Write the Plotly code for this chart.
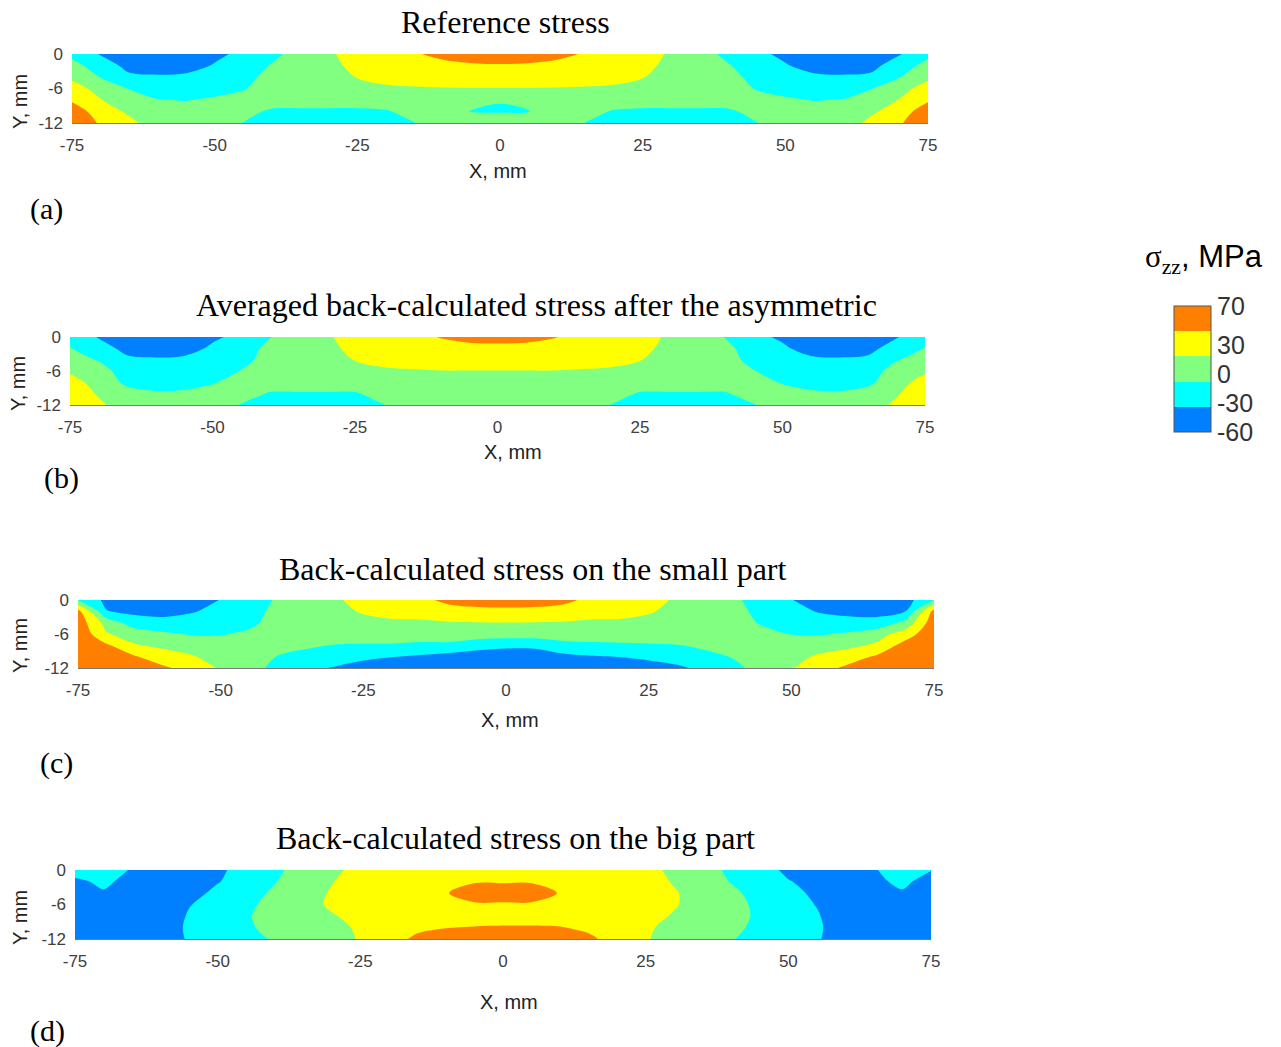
import plotly.graph_objects as go

# page size and the 8 px body margin of the html page
W, H = 1281, 1047
PAGE_MARGIN = 8
FW, FH = W - 2 * PAGE_MARGIN, H - PAGE_MARGIN

# ---------------- data ----------------
X_NODES = [-75, -70, -65, -60, -55, -50, -45, -40, -35, -30, -25, -20, -15, -10, -5, 0,
           5, 10, 15, 20, 25, 30, 35, 40, 45, 50, 55, 60, 65, 70, 75]
Y_NODES = [0, -2, -4, -6, -8, -10, -12]

X_TICKS = [-75, -50, -25, 0, 25, 50, 75]
X_TICK_TEXT = ["-75", "-50", "-25", "0", "25", "50", "75"]
Y_TICKS = [0, -6, -12]
Y_TICK_TEXT = ["0", "-6", "-12"]

CBAR_TICKS = [-60, -30, 0, 30, 70]
CBAR_TICK_TEXT = ["-60", "-30", "0", "30", "70"]

# sigma_zz (MPa) on the grid, one row per Y_NODES value
Z_REFERENCE = [
    [-14, -36, -50, -55, -52, -40, -28, -16, 4, 14, 30, 32, 42, 50, 56, 58, 56, 50, 42, 32, 30, 14, 4, -16, -28, -40, -52, -55, -50, -36, -14],
    [0, -20, -42, -46, -44, -32, -24, -6, 6, 10, 26, 30, 34, 38, 41, 42, 41, 38, 34, 30, 26, 10, 6, -6, -24, -32, -44, -46, -42, -20, 0],
    [12, -9, -29, -31, -29, -26, -18, 2, 6, 8, 19, 26, 28, 30, 30, 30, 30, 30, 28, 26, 19, 8, 6, 2, -18, -26, -29, -31, -29, -9, 12],
    [30, 8, -9, -20, -20, -18, -10, 5, 5, 6, 10, 14, 16, 17, 17.5, 17.5, 17.5, 17, 16, 14, 10, 6, 5, 5, -10, -18, -20, -20, -9, 8, 30],
    [40, 19, 5, -7, -9, -4, 2, 4, 2, 2, 2, 4, 6, 4, -4, -7, -4, 4, 6, 4, 2, 2, 2, 4, 2, -4, -9, -7, 5, 19, 40],
    [60, 30, 14, 3, 2, 3, 0, -12, -12, -12, -12, -10, 0, -2, -8.5, -10, -8.5, -2, 0, -10, -12, -12, -12, -12, 0, 3, 2, 3, 14, 30, 60],
    [72, 40, 24, 6, 4, 2, -8.5, -20, -20, -20, -18, -16, -8.5, 2, 5, 8, 5, 2, -8.5, -16, -18, -20, -20, -20, -8.5, 2, 4, 6, 24, 40, 72],
]

Z_AVERAGED = [
    [-12, -36, -50, -55, -52, -38, -28, -9, 4, 14, 30, 32, 36, 45, 50, 52, 50, 45, 36, 32, 30, 14, 4, -9, -28, -38, -52, -55, -50, -36, -12],
    [-7, -22, -42, -46, -44, -30, -24, 0, 6, 10, 26, 30, 34, 36, 38, 38, 38, 36, 34, 30, 26, 10, 6, 0, -24, -30, -44, -46, -42, -22, -7],
    [4, -10, -29, -31, -29, -26, -18, 4, 6, 8, 19, 26, 28, 30, 30, 30, 30, 30, 28, 26, 19, 8, 6, 4, -18, -26, -29, -31, -29, -10, 4],
    [15, 4, -22, -24, -22, -20, -7, 6, 5, 6, 10, 14, 16, 17.5, 17.5, 17.5, 17.5, 17.5, 16, 14, 10, 6, 5, 6, -7, -20, -22, -24, -22, 4, 15],
    [26, 10, -14, -18, -16, -10, 2, 4, 3, 3, 3, 5, 5, 5, 5, 5, 5, 5, 5, 5, 3, 3, 3, 4, 2, -10, -16, -18, -14, 10, 26],
    [32, 16, 2, -5, -4, 2, 2, -10, -10, -10, -10, 0, 2, 3, 3, 3, 3, 3, 2, 0, -10, -10, -10, -10, 2, 2, -4, -5, 2, 16, 32],
    [36, 22, 8, 4, 4, 2, -9, -20, -20, -18, -16, -8.5, 2, 3, 3, 3, 3, 3, 2, -8.5, -16, -18, -20, -20, -9, 2, 4, 4, 8, 22, 36],
]

Z_SMALL = [
    [-10, -40, -50, -52, -48, -33, -26, -4, 6, 14, 28, 34, 40, 48, 54, 56, 54, 48, 40, 34, 28, 14, 6, -2, -24, -33, -48, -52, -52, -44, -10],
    [52, -33, -40, -42, -35.5, -28, -22, 2, 8, 12, 20, 26, 28, 38, 38, 38, 38, 38, 28, 26, 20, 12, 8, 4, -20, -28, -35.5, -42, -42, -34, 52],
    [60, 8, -22, -26, -26, -20, -16, 6, 8, 10, 12, 14, 14, 16, 17, 17.5, 17, 16, 14, 14, 12, 10, 8, 6, -12, -20, -26, -24, -26, 0, 60],
    [66, 20, 6, -4, -10, -10, -2, 8, 6, 4, 2, 2, 2, 2, 2, 2, 2, 2, 2, 2, 2, 4, 6, 8, 2, -9, -10, -5, 8, 30, 66],
    [70, 48, 20, 12, 6, 4, 6, 6, -4, -9, -10, -10, -12, -12, -20, -24, -24, -14, -12, -11, -10, -9, -2, 6, 6, 4, 6, 12, 22, 55, 70],
    [72, 60, 46, 30, 20, 8, 6, -9, -16, -22, -30, -33.5, -38, -44, -52, -60, -58, -42, -36, -33.5, -30, -24, -16, -6, 6, 10, 22, 32, 48, 64, 72],
    [74, 66, 56, 48, 34, 15, 2, -16, -28, -36, -42, -46, -48, -50, -56, -60, -58, -50, -48, -46, -42, -38, -28, -14, 2, 16, 34, 50, 58, 70, 74],
]

Z_BIG = [
    [-20, -22, -36, -48, -44, -38, -26, -12, 0, 12, 26, 32, 34, 36, 38, 38, 38, 36, 34, 32, 26, 12, 0, -12, -26, -38, -44, -44, -36, -22, -33],
    [-40, -28, -44, -50, -46, -35, -26, -9, 2, 17, 28, 34, 36, 40, 41, 41, 41, 40, 36, 34, 28, 16, 2, -9, -26, -33, -40, -46, -40, -28, -45],
    [-48, -37, -50, -52, -40, -30, -15, -5, 8, 20, 30, 34, 38, 42, 60, 60, 60, 42, 38, 34, 30, 20, 8, -4, -15, -28, -38, -48, -48, -37, -50],
    [-50, -48, -50, -52, -35, -26, -12, -2, 8, 22, 30, 34, 38, 40, 40, 40, 40, 40, 38, 34, 30, 20, 8, -2, -12, -24, -35, -50, -50, -50, -50],
    [-50, -50, -50, -48, -32, -24, -10, 0, 10, 16, 26, 32, 34, 34, 34, 34, 34, 34, 34, 32, 26, 16, 10, 0, -12, -24, -32, -48, -50, -50, -50],
    [-50, -50, -50, -48, -30, -24, -12, 0, 4, 10, 22, 32, 40, 43.5, 45, 46, 46, 45, 40, 32, 22, 10, 4, -2, -14, -24, -30, -48, -50, -50, -50],
    [-50, -50, -50, -50, -31, -24, -14, -6, 2, 8, 20, 36, 48, 52, 54, 54, 54, 52, 48, 36, 20, 8, 2, -7, -14, -24, -31, -50, -50, -50, -50],
]

TITLES = ["Reference stress",
          "Averaged back-calculated stress after the asymmetric",
          "Back-calculated stress on the small part",
          "Back-calculated stress on the big part"]
LETTERS = ["(a)", "(b)", "(c)", "(d)"]
FIELDS = [Z_REFERENCE, Z_AVERAGED, Z_SMALL, Z_BIG]

# ---------------- layout (pixel positions on the page) ----------------
PANELS = [
    dict(x0=72, x1=928, y0=54, y1=123, title=(505, 22), xt=(498, 171), yt=(20, 102), lab=(46, 209)),
    dict(x0=70, x1=925, y0=337, y1=405, title=(536, 305), xt=(513, 452), yt=(18, 384), lab=(61, 478)),
    dict(x0=78, x1=934, y0=600, y1=668, title=(532, 569), xt=(510, 720), yt=(20, 646), lab=(56, 763)),
    dict(x0=75, x1=931, y0=870, y1=939, title=(515, 838), xt=(509, 1002), yt=(20, 918), lab=(47, 1031)),
]

COLORSCALE = [[0.0, "#0080FF"], [0.25, "#00FFFF"], [0.5, "#80FF80"],
              [0.75, "#FFFF00"], [1.0, "#FF8000"]]

SANS = "Liberation Sans, Arial, sans-serif"
SERIF = "Liberation Serif, Times New Roman, serif"


def fx(p):
    return (p - PAGE_MARGIN) / FW


def fy(p):
    return 1 - (p - PAGE_MARGIN) / FH


fig = go.Figure()
annotations = []
layout_axes = {}

for i, (z, p) in enumerate(zip(FIELDS, PANELS)):
    n = "" if i == 0 else str(i + 1)
    fig.add_trace(go.Contour(
        x=X_NODES, y=Y_NODES, z=z,
        xaxis="x" + n, yaxis="y" + n,
        colorscale=COLORSCALE, zmin=-60, zmax=70,
        autocontour=False,
        contours=dict(start=-34, end=44, size=26, coloring="fill", showlines=False),
        line=dict(width=0, smoothing=1.0),
        showscale=(i == 0),
        colorbar=dict(
            x=fx(1174), xanchor="left", y=fy(306), yanchor="top",
            len=126 / FH, lenmode="fraction", thickness=37, thicknessmode="pixels",
            tickmode="array", tickvals=CBAR_TICKS, ticktext=CBAR_TICK_TEXT,
            tickfont=dict(family=SANS, size=25, color="#333333"),
            ticks="", outlinewidth=1, outlinecolor="#555555",
            xpad=0, ypad=0,
        ),
        hoverinfo="skip",
    ))
    layout_axes["xaxis" + n] = dict(
        domain=[fx(p["x0"]), fx(p["x1"])], range=[-75, 75], anchor="y" + n,
        tickmode="array", tickvals=X_TICKS, ticktext=X_TICK_TEXT,
        showgrid=False, zeroline=False, ticks="", showline=True,
        linecolor="#7a7a7a", linewidth=1, automargin=False,
        tickfont=dict(family=SANS, size=17, color="#404040"),
        ticklabelstandoff=7,
    )
    layout_axes["yaxis" + n] = dict(
        domain=[fy(p["y1"]), fy(p["y0"])], range=[-12, 0], anchor="x" + n,
        tickmode="array", tickvals=Y_TICKS, ticktext=Y_TICK_TEXT,
        showgrid=False, zeroline=False, ticks="", showline=False, automargin=False,
        tickfont=dict(family=SANS, size=17, color="#404040"),
        ticklabelstandoff=8,
    )
    annotations.append(dict(text=TITLES[i], x=fx(p["title"][0]), y=fy(p["title"][1]),
                            xref="paper", yref="paper", showarrow=False,
                            xanchor="center", yanchor="middle",
                            font=dict(family=SERIF, size=32, color="#000000")))
    annotations.append(dict(text="X, mm", x=fx(p["xt"][0]), y=fy(p["xt"][1]),
                            xref="paper", yref="paper", showarrow=False,
                            xanchor="center", yanchor="middle",
                            font=dict(family=SANS, size=20, color="#222222")))
    annotations.append(dict(text="Y, mm", x=fx(p["yt"][0]), y=fy(p["yt"][1]),
                            xref="paper", yref="paper", showarrow=False, textangle=-90,
                            xanchor="center", yanchor="middle",
                            font=dict(family=SANS, size=20, color="#222222")))
    annotations.append(dict(text=LETTERS[i], x=fx(p["lab"][0]), y=fy(p["lab"][1]),
                            xref="paper", yref="paper", showarrow=False,
                            xanchor="center", yanchor="middle",
                            font=dict(family=SERIF, size=30, color="#000000")))

annotations.append(dict(
    text='<span style="font-family:Liberation Serif">σ<sub>zz</sub></span>, MPa',
    x=fx(1204), y=fy(259), xref="paper", yref="paper", showarrow=False,
    xanchor="center", yanchor="middle",
    font=dict(family=SANS, size=31, color="#000000")))

fig.update_layout(
    width=FW, height=FH,
    margin=dict(l=0, r=0, t=0, b=0, pad=0, autoexpand=False),
    paper_bgcolor="white", plot_bgcolor="white",
    showlegend=False, annotations=annotations, **layout_axes,
)

fig.write_html("out.html")
